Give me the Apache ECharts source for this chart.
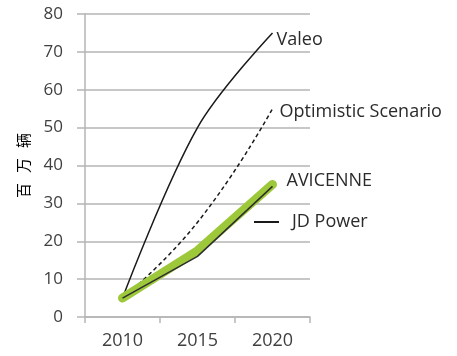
<!DOCTYPE html>
<html>
<head>
<meta charset="utf-8">
<script src="https://cdn.jsdelivr.net/npm/echarts@6/dist/echarts.min.js"></script>
<style>html,body{margin:0;padding:0;background:#fff}#c{width:457px;height:356px}</style>
</head>
<body>
<div id="c"></div>
<script>
const years = ['2010', '2015', '2020'];
const valeo = [5, 50, 75];
const optimistic = [5, 25, 55];
const avicenne = [5, 17.5, 35];
const jdPower = [5, 16, 34.5];
const yTicks = {min: 0, max: 80, interval: 10};
const yNameChars = ['百', '万', '辆'];

const FONT = 'Open Sans';
const TXT = '#2b2b2b';
const chart = echarts.init(document.getElementById('c'), null, {renderer: 'canvas'});
const gridColor = '#b5b5b5';
chart.setOption({
  animation: false,
  grid: {left: 85, right: 147, top: 14, bottom: 39},
  legend: {
    data: [{name: 'JD Power', icon: 'rect'}], left: 254, top: 213, padding: 0,
    itemWidth: 25, itemHeight: 2,
    textStyle: {fontFamily: FONT, fontSize: 18, color: TXT, padding: [0, 0, 0, 8]}
  },
  xAxis: {
    type: 'category', data: years, boundaryGap: true,
    axisLine: {lineStyle: {color: gridColor, width: 1.5}},
    axisTick: {show: true, length: 6, lineStyle: {color: gridColor, width: 1.5}},
    axisLabel: {fontFamily: FONT, fontSize: 18, color: '#404040', margin: 15}
  },
  yAxis: {
    type: 'value', min: yTicks.min, max: yTicks.max, interval: yTicks.interval,
    name: yNameChars.map(c => '{c|' + c + '}').join(''),
    nameLocation: 'middle', nameRotate: 90, nameGap: 54,
    nameTextStyle: {
      fontFamily: 'Noto Sans CJK SC', fontSize: 15, color: '#000',
      rich: {c: {fontFamily: 'Noto Sans CJK SC', fontSize: 15, color: '#000', width: 25, align: 'center'}}
    },
    axisLine: {show: true, lineStyle: {color: gridColor, width: 1.5}},
    axisTick: {show: true, length: 8, lineStyle: {color: gridColor, width: 1.5}},
    splitLine: {lineStyle: {color: gridColor, width: 1.5}},
    axisLabel: {fontFamily: FONT, fontSize: 17, color: '#404040', margin: 22}
  },
  series: [
    {
      name: 'Valeo', type: 'line', data: valeo, smooth: 0.35, symbol: 'none',
      lineStyle: {color: '#1a1a1a', width: 1.5},
      endLabel: {show: true, formatter: '{a}', distance: 4, offset: [0, 7], fontFamily: FONT, fontSize: 18, color: TXT}
    },
    {
      name: 'Optimistic Scenario', type: 'line', data: optimistic, smooth: 0.5, symbol: 'none',
      lineStyle: {color: '#1a1a1a', width: 1.5, type: [4, 3]},
      endLabel: {show: true, formatter: '{a}', distance: 7, offset: [0, 3], fontFamily: FONT, fontSize: 18, color: TXT}
    },
    {
      name: 'AVICENNE', type: 'line', data: avicenne, symbol: 'none',
      lineStyle: {color: '#9dc83a', width: 9, cap: 'round', join: 'round'},
      endLabel: {show: true, formatter: '{a}', distance: 14, offset: [0, -4], fontFamily: FONT, fontSize: 18, color: TXT}
    },
    {
      name: 'JD Power', type: 'line', data: jdPower, symbol: 'none',
      itemStyle: {color: '#1a1a1a'},
      lineStyle: {color: '#2e2e2e', width: 1.5}
    }
  ]
});
</script>
</body>
</html>
